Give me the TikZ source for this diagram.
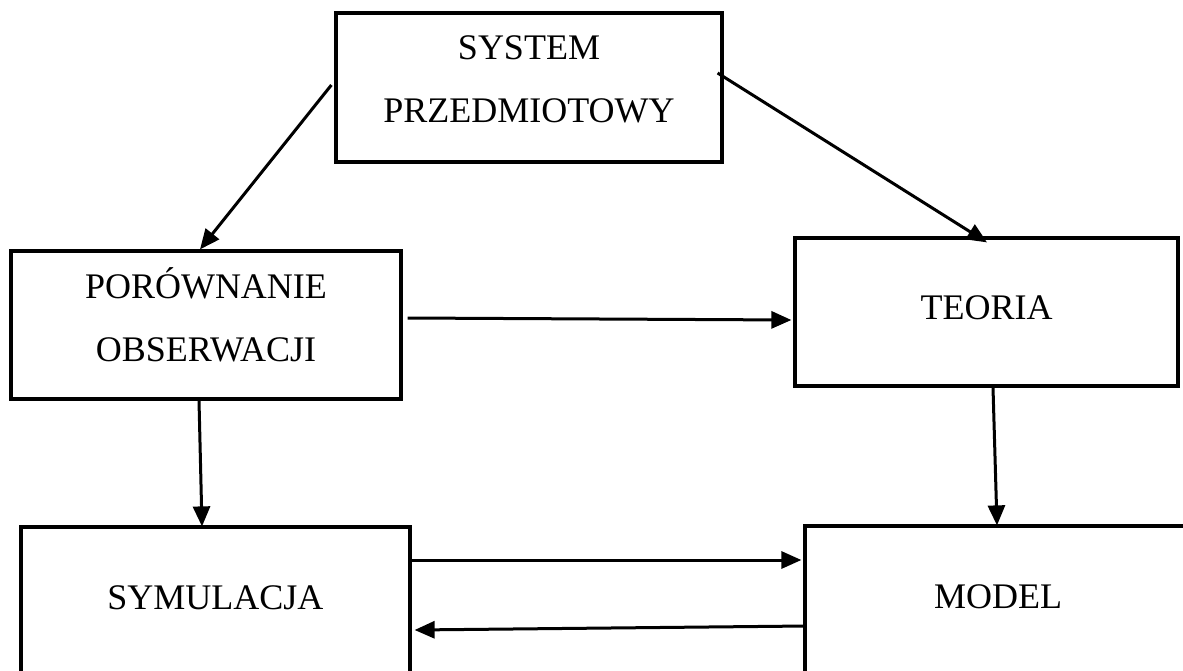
\documentclass[tikz,border=0pt]{standalone}
\usepackage{fontspec}
\setmainfont{Liberation Serif}
\usetikzlibrary{arrows.meta,calc}
\begin{document}
\begin{tikzpicture}[x=1pt,y=-1pt,
  box/.style={draw,line width=3.2pt,rectangle,inner sep=0pt},
  txt/.style={inner sep=0pt,align=center,font=\fontsize{36}{63}\selectfont},
  link/.style={line width=3pt,-{Triangle[length=20pt,width=17pt]}}]
\useasboundingbox (0,0) rectangle (1183,671);
\clip (0,0) rectangle (1183,671);
% boxes
\node[box,minimum width=386pt,minimum height=149pt] (sp) at (529,87.5) {};
\node[box,minimum width=390pt,minimum height=148pt] (po) at (206,325) {};
\node[box,minimum width=383pt,minimum height=148pt] (te) at (986.5,312) {};
\node[box,minimum width=389pt,minimum height=148pt] (sy) at (215.5,601) {};
\node[box,minimum width=386pt,minimum height=148pt] (mo) at (998,600) {};
% box texts
\node[txt] (spt) at ($(sp.center)+(0,-8)$) {SYSTEM\\PRZEDMIOTOWY};
\node[txt] (pot) at ($(po.center)+(0,-10)$) {POR\'OWNANIE\\OBSERWACJI};
\node[txt] (tet) at ($(te.center)+(0,-4)$) {TEORIA};
\node[txt] (syt) at ($(sy.center)+(0,-3)$) {SYMULACJA};
\node[txt] (mot) at ($(mo.center)+(0,-3)$) {MODEL};
% connectors
\draw[link] ($(sp.west)+(-3,-2.5)$) -- ($(po.north)+(-6,0)$);
\draw[link] ($(sp.east)+(-6,-14.5)$) -- ($(te.north)+(0.5,6)$);
\draw[link] ($(po.east)+(5,-7)$) -- ($(te.west)+(-2,8)$);
\draw[link] ($(po.south)+(-7,0)$) -- ($(sy.north)+(-13.5,1)$);
\draw[link] ($(te.south)+(6.5,0)$) -- ($(mo.north)+(-1,1)$);
\draw[link] ($(sy.east)+(0,-41)$) -- ($(mo.west)+(-2,-40)$);
\draw[link] ($(mo.west)+(3,26)$) -- ($(sy.east)+(3,29)$);
\end{tikzpicture}
\end{document}
